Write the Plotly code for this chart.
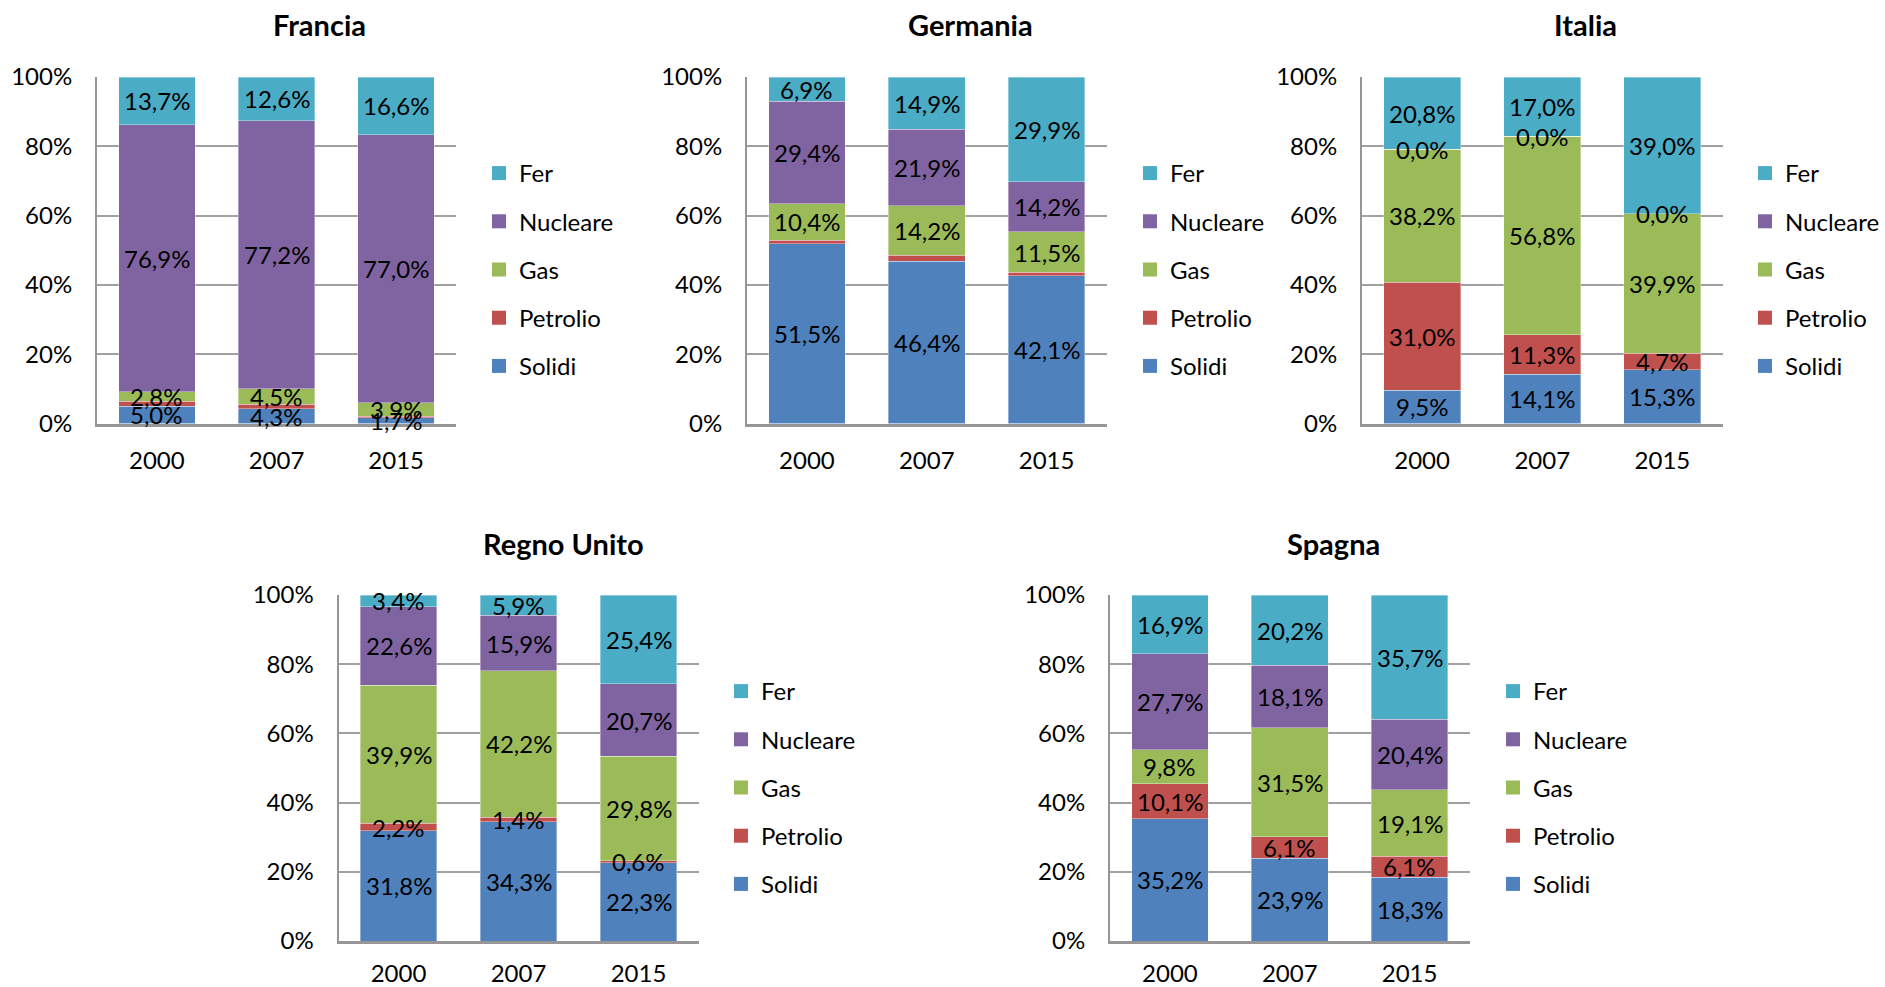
import plotly.graph_objects as go

# ---------------- data ----------------
years = ["2000", "2007", "2015"]
sources = ["Solidi", "Petrolio", "Gas", "Nucleare", "Fer"]
colors = ["#4F81BD", "#C0504D", "#9BBB59", "#8064A2", "#4BACC6"]

countries = ["Francia", "Germania", "Italia", "Regno Unito", "Spagna"]

francia_solidi = [5.0, 4.3, 1.7]
francia_petrolio = [1.4, 1.2, 0.4]
francia_gas = [2.8, 4.5, 3.9]
francia_nucleare = [76.9, 77.2, 77.0]
francia_fer = [13.7, 12.6, 16.6]

germania_solidi = [51.5, 46.4, 42.1]
germania_petrolio = [1.0, 1.7, 1.0]
germania_gas = [10.4, 14.2, 11.5]
germania_nucleare = [29.4, 21.9, 14.2]
germania_fer = [6.9, 14.9, 29.9]

italia_solidi = [9.5, 14.1, 15.3]
italia_petrolio = [31.0, 11.3, 4.7]
italia_gas = [38.2, 56.8, 39.9]
italia_nucleare = [0.0, 0.0, 0.0]
italia_fer = [20.8, 17.0, 39.0]

regno_solidi = [31.8, 34.3, 22.3]
regno_petrolio = [2.2, 1.4, 0.6]
regno_gas = [39.9, 42.2, 29.8]
regno_nucleare = [22.6, 15.9, 20.7]
regno_fer = [3.4, 5.9, 25.4]

spagna_solidi = [35.2, 23.9, 18.3]
spagna_petrolio = [10.1, 6.1, 6.1]
spagna_gas = [9.8, 31.5, 19.1]
spagna_nucleare = [27.7, 18.1, 20.4]
spagna_fer = [16.9, 20.2, 35.7]

data = [
    [francia_solidi, francia_petrolio, francia_gas, francia_nucleare, francia_fer],
    [germania_solidi, germania_petrolio, germania_gas, germania_nucleare, germania_fer],
    [italia_solidi, italia_petrolio, italia_gas, italia_nucleare, italia_fer],
    [regno_solidi, regno_petrolio, regno_gas, regno_nucleare, regno_fer],
    [spagna_solidi, spagna_petrolio, spagna_gas, spagna_nucleare, spagna_fer],
]
# which series show data labels, per country
show_labels = [
    [True, False, True, True, True],
    [True, False, True, True, True],
    [True, True, True, True, True],
    [True, True, True, True, True],
    [True, True, True, True, True],
]

ytick_vals = [0, 20, 40, 60, 80, 100]
ytick_text = ["0%", "20%", "40%", "60%", "80%", "100%"]

# ---------------- layout geometry (page pixels) ----------------
W, H = 1885, 987
# (x0, x1, ytop, ybottom, title_x, title_y, legend_x, legend_top, xlabel_standoff)
panels = [
    (97, 456, 77, 423.5, 319, 25, 479, 151, 14),
    (747, 1106.5, 77, 423.5, 970, 25, 1130, 151, 14),
    (1362, 1722.5, 77, 423.5, 1585, 25, 1745, 151, 14),
    (338.5, 698.5, 595, 941, 563, 543, 721, 669, 9),
    (1110, 1469.5, 595, 941, 1333, 543, 1493, 669, 9),
]

def px(v):
    return v / W

def py(v):
    return 1 - v / H

FONT = "Lato, 'Open Sans', sans-serif"
fig = go.Figure()

def fmt(v):
    return f"{v:.1f}".replace(".", ",") + "%"

annotations = []
for ci, country in enumerate(countries):
    n = ci + 1
    suffix = "" if n == 1 else str(n)
    for si, src in enumerate(sources):
        vals = data[ci][si]
        fig.add_trace(go.Bar(
            x=years, y=vals, name=src,
            marker=dict(color=colors[si], line=dict(width=0.6, color="rgba(255,255,255,0.6)")),
            xaxis="x" + suffix, yaxis="y" + suffix,
            showlegend=False, hoverinfo="skip",
        ))
    # legend entries (square swatches like the original)
    for si, src in enumerate(sources):
        fig.add_trace(go.Scatter(
            x=[None], y=[None], mode="markers", name=src,
            marker=dict(symbol="square", size=14, color=colors[si]),
            xaxis="x" + suffix, yaxis="y" + suffix,
            legend="legend" + suffix, legendgroup=f"{country}-{src}",
            legendrank=len(sources) - si, showlegend=True, hoverinfo="skip",
        ))
    # data labels, centred in each (normalised) segment, drawn above all bars
    for yi in range(len(years)):
        total = sum(data[ci][si][yi] for si in range(len(sources)))
        cum = 0.0
        for si in range(len(sources)):
            v = data[ci][si][yi]
            if show_labels[ci][si]:
                annotations.append(dict(
                    text=fmt(v), x=yi, y=(cum + v / 2) / total * 100,
                    xref="x" + suffix, yref="y" + suffix,
                    xanchor="center", yanchor="middle", showarrow=False,
                    font=dict(size=24, family=FONT, color="#000000"),
                ))
            cum += v

layout = dict(
    width=W, height=H,
    margin=dict(l=0, r=0, t=0, b=0, autoexpand=False),
    paper_bgcolor="white", plot_bgcolor="white",
    barmode="stack", barnorm="percent", bargap=0.36,
    font=dict(family=FONT, size=24, color="#000000"),
)

for ci, (x0, x1, yt, yb, tx, ty, lx, ltop, xso) in enumerate(panels):
    n = ci + 1
    suffix = "" if n == 1 else str(n)
    layout["xaxis" + suffix] = dict(
        domain=[px(x0), px(x1)], anchor="y" + suffix, type="category",
        categoryorder="array", categoryarray=years,
        showline=True, linecolor="#969696", linewidth=3,
        showgrid=False, ticks="", ticklabelstandoff=xso, automargin=False,
        tickfont=dict(size=24, family=FONT, color="#000000"),
        fixedrange=True,
    )
    layout["yaxis" + suffix] = dict(
        domain=[py(yb), py(yt)], anchor="x" + suffix,
        range=[0, 100], tickvals=ytick_vals, ticktext=ytick_text,
        showline=True, linecolor="#969696", linewidth=2,
        showgrid=True, gridcolor="#a0a0a0", gridwidth=2,
        zeroline=False, ticks="", ticklabelstandoff=18, automargin=False,
        tickfont=dict(size=24, family=FONT, color="#000000"),
        fixedrange=True,
    )
    layout["legend" + suffix] = dict(
        x=px(lx), y=py(ltop), xanchor="left", yanchor="top",
        xref="paper", yref="paper",
        traceorder="grouped", tracegroupgap=14,
        font=dict(size=24, family=FONT, color="#000000"),
        bgcolor="rgba(0,0,0,0)", itemclick=False, itemdoubleclick=False,
    )
    annotations.append(dict(
        text="<b>" + countries[ci] + "</b>", x=px(tx), y=py(ty),
        xref="paper", yref="paper", xanchor="center", yanchor="middle",
        showarrow=False, font=dict(size=29, family=FONT, color="#000000"),
    ))

layout["annotations"] = annotations
fig.update_layout(**layout)
fig.write_html(
    "out.html",
    config={"displayModeBar": False},
    post_script="document.body.style.margin='0';document.body.style.overflow='hidden';",
)
